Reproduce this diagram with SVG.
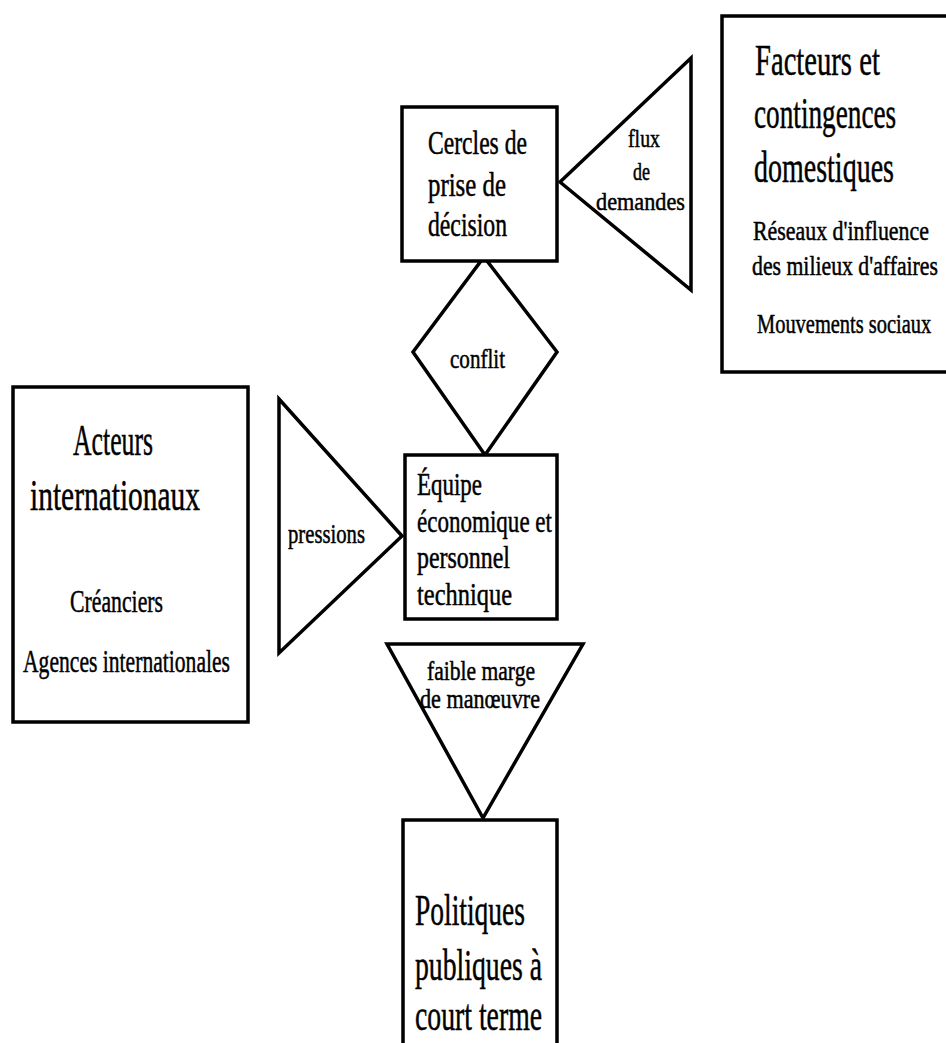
<svg xmlns="http://www.w3.org/2000/svg" width="946" height="1043" viewBox="0 0 946 1043">
<style>
.s{fill:#fff;stroke:#000;stroke-width:3.5;stroke-linejoin:miter}
text{font-family:"Liberation Serif","Times New Roman",serif;fill:#000;stroke:#000;stroke-width:0.5}
.xl{font-size:45px}
.b{font-size:34px}
.m{font-size:32px}
.t{font-size:28px}
.u{font-size:26px}
</style>
<rect width="946" height="1043" fill="#fff"/>
<g id="connectors">
<polygon class="s" points="560,182 691,58 691,290"/>
<polygon class="s" points="484,257 557,352 485,455 413,352"/>
<polygon class="s" points="279,399 402,536 279,653"/>
<polygon class="s" points="387,644 583,644 483,818"/>
</g>
<g id="cercles">
<rect class="s" x="402" y="107" width="155" height="154"/>
<text class="b" x="428" y="154" textLength="99" lengthAdjust="spacingAndGlyphs">Cercles de</text>
<text class="b" x="428" y="196" textLength="78" lengthAdjust="spacingAndGlyphs">prise de</text>
<text class="b" x="428" y="236" textLength="79" lengthAdjust="spacingAndGlyphs">décision</text>
</g>
<g id="flux">
<text class="u" x="628" y="147" textLength="32" lengthAdjust="spacingAndGlyphs">flux</text>
<text class="u" x="633" y="180" textLength="17" lengthAdjust="spacingAndGlyphs">de</text>
<text class="u" x="596" y="210" textLength="89" lengthAdjust="spacingAndGlyphs">demandes</text>
</g>
<g id="conflit">
<text class="t" x="450" y="368" textLength="55" lengthAdjust="spacingAndGlyphs">conflit</text>
</g>
<g id="facteurs">
<path class="s" d="M946,16 H722 V372 H946"/>
<text class="xl" transform="translate(755,75) scale(0.637,1)" textLength="196" lengthAdjust="spacingAndGlyphs">Facteurs et</text>
<text class="xl" transform="translate(754,128) scale(0.605,1)" textLength="235" lengthAdjust="spacingAndGlyphs">contingences</text>
<text class="xl" transform="translate(754,182) scale(0.622,1)" textLength="225" lengthAdjust="spacingAndGlyphs">domestiques</text>
<text class="t" transform="translate(753,240) scale(0.782,1)" textLength="225" lengthAdjust="spacingAndGlyphs">Réseaux d'influence</text>
<text class="t" transform="translate(752,275) scale(0.775,1)" textLength="240" lengthAdjust="spacingAndGlyphs">des milieux d'affaires</text>
<text class="t" transform="translate(757,333) scale(0.729,1)" textLength="239" lengthAdjust="spacingAndGlyphs">Mouvements sociaux</text>
</g>
<g id="acteurs">
<rect class="s" x="13" y="387" width="235" height="335"/>
<text class="xl" x="73" y="455" textLength="80" lengthAdjust="spacingAndGlyphs">Acteurs</text>
<text class="xl" x="30" y="510" textLength="170" lengthAdjust="spacingAndGlyphs">internationaux</text>
<text class="m" x="70" y="612" textLength="93" lengthAdjust="spacingAndGlyphs">Créanciers</text>
<text class="m" x="23" y="672" textLength="207" lengthAdjust="spacingAndGlyphs">Agences internationales</text>
</g>
<g id="pressions">
<text class="t" x="288" y="543" textLength="77" lengthAdjust="spacingAndGlyphs">pressions</text>
</g>
<g id="equipe">
<rect class="s" x="405" y="455" width="152" height="164"/>
<text class="m" x="417" y="495" textLength="65" lengthAdjust="spacingAndGlyphs">Équipe</text>
<text class="m" x="417" y="532" textLength="135" lengthAdjust="spacingAndGlyphs">économique et</text>
<text class="m" x="417" y="568" textLength="93" lengthAdjust="spacingAndGlyphs">personnel</text>
<text class="m" x="417" y="605" textLength="95" lengthAdjust="spacingAndGlyphs">technique</text>
</g>
<g id="faible">
<text class="t" x="427" y="680" textLength="108" lengthAdjust="spacingAndGlyphs">faible marge</text>
<text class="t" x="420" y="708" textLength="120" lengthAdjust="spacingAndGlyphs">de manœuvre</text>
</g>
<g id="politiques">
<path class="s" d="M403,1046 V820 H557 V1046"/>
<text class="xl" x="415" y="925" textLength="110" lengthAdjust="spacingAndGlyphs">Politiques</text>
<text class="xl" x="415" y="980" textLength="127" lengthAdjust="spacingAndGlyphs">publiques à</text>
<text class="xl" x="415" y="1030" textLength="127" lengthAdjust="spacingAndGlyphs">court terme</text>
</g>
</svg>
